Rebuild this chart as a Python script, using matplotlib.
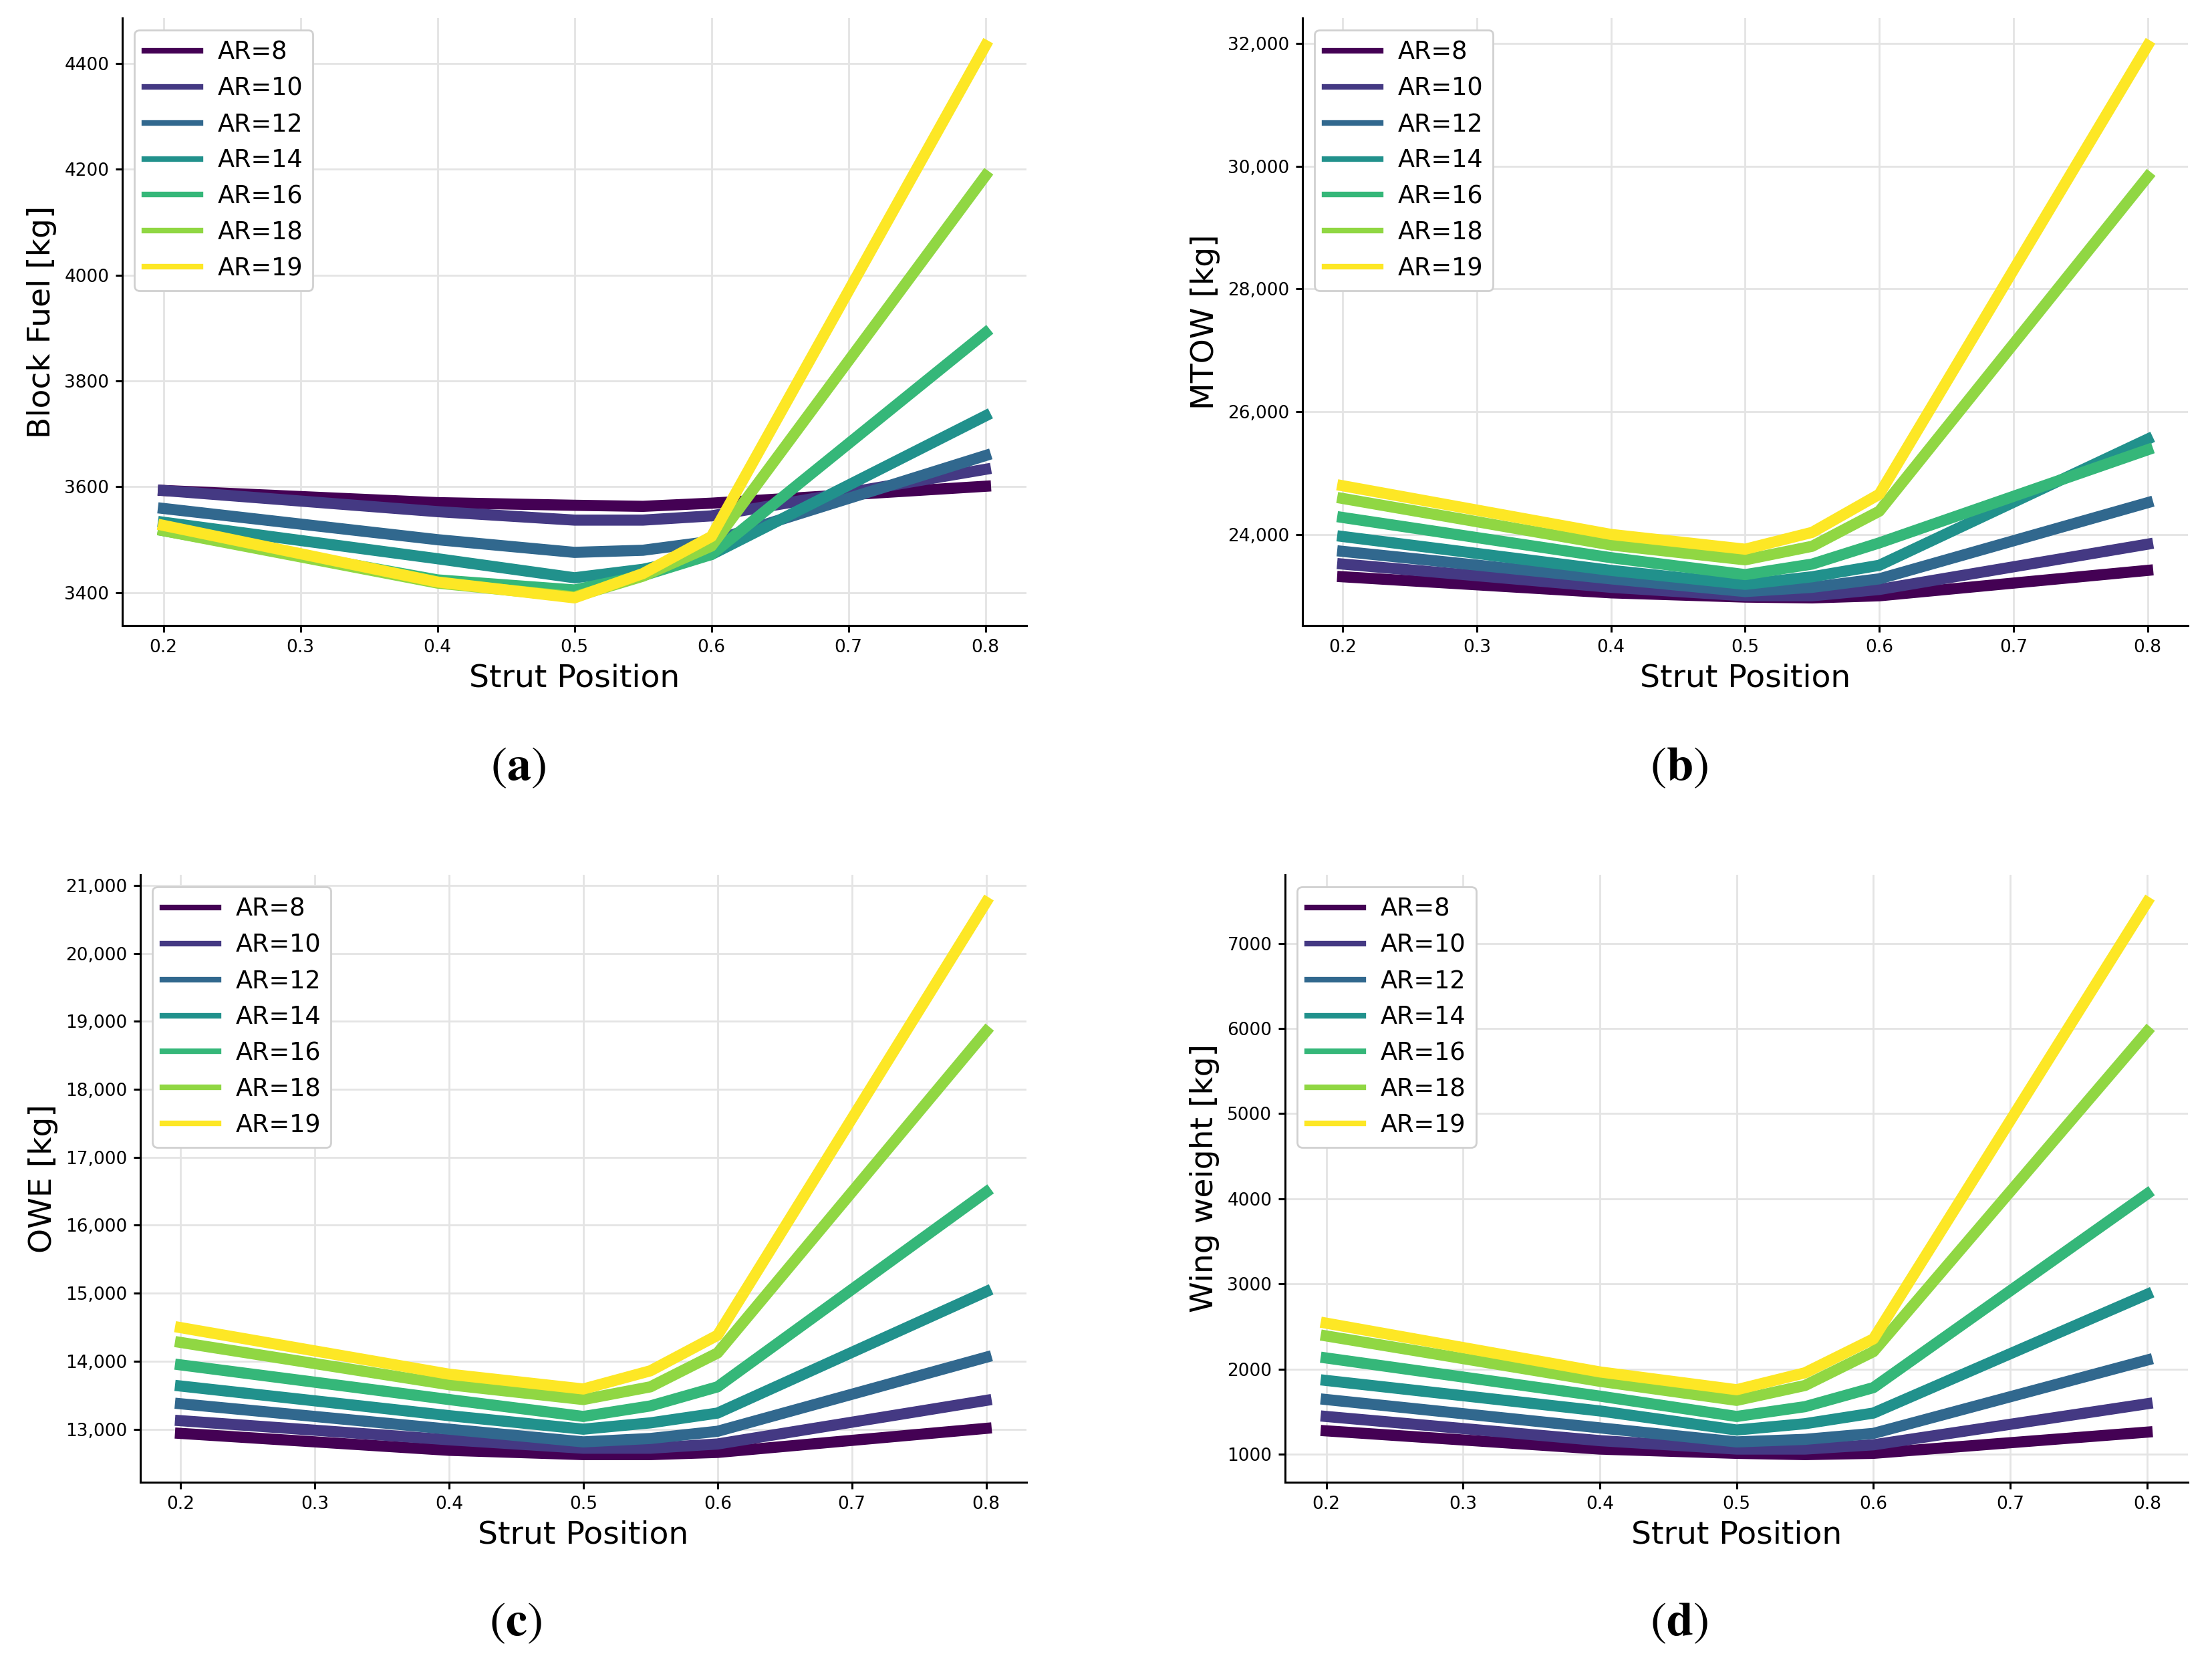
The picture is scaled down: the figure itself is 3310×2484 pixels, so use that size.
"""Strut position sweep: block fuel, MTOW, OWE and wing weight per aspect ratio."""

import matplotlib
matplotlib.use("Agg")
import matplotlib.pyplot as plt
import matplotlib.ticker as mticker
import numpy as np

strut_pos = [0.2, 0.4, 0.5, 0.55, 0.6, 0.8]
aspect_ratios = [8, 10, 12, 14, 16, 18, 19]

block_fuel = [
    [3593, 3570, 3565, 3563, 3569, 3601],
    [3593, 3553, 3537, 3537, 3545, 3633],
    [3559, 3500, 3476, 3480, 3497, 3659],
    [3533, 3464, 3428, 3444, 3472, 3734],
    [3517, 3424, 3405, 3432, 3472, 3891],
    [3517, 3418, 3392, 3431, 3488, 4188],
    [3527, 3420, 3390, 3436, 3506, 4434],
]
mtow = [
    [23310, 23048, 22979, 22966, 23000, 23414],
    [23517, 23138, 23000, 23000, 23103, 23841],
    [23724, 23276, 23069, 23138, 23276, 24517],
    [23966, 23414, 23186, 23310, 23497, 25552],
    [24276, 23621, 23345, 23517, 23862, 25379],
    [24586, 23828, 23586, 23807, 24379, 29828],
    [24793, 24000, 23759, 24034, 24655, 31966],
]
owe = [
    [12938, 12689, 12626, 12626, 12658, 13012],
    [13125, 12844, 12720, 12720, 12782, 13423],
    [13374, 13000, 12813, 12863, 12969, 14058],
    [13635, 13199, 13000, 13093, 13237, 15023],
    [13946, 13436, 13187, 13342, 13623, 16487],
    [14276, 13654, 13436, 13623, 14121, 18852],
    [14494, 13809, 13591, 13859, 14382, 20751],
]
wing_weight = [
    [1274, 1060, 1010, 995, 1010, 1259],
    [1443, 1159, 1060, 1060, 1110, 1592],
    [1642, 1309, 1144, 1174, 1244, 2105],
    [1866, 1508, 1284, 1358, 1483, 2877],
    [2130, 1682, 1443, 1558, 1782, 4057],
    [2389, 1856, 1632, 1807, 2205, 5964],
    [2539, 1966, 1757, 1956, 2354, 7483],
]

panels = [
    (block_fuel, "Block Fuel [kg]", False, "a"),
    (mtow, "MTOW [kg]", True, "b"),
    (owe, "OWE [kg]", True, "c"),
    (wing_weight, "Wing weight [kg]", False, "d"),
]

# axes rectangles in figure fractions (left, bottom, width, height)
axes_rects = [
    (0.0553, 0.6232, 0.4088, 0.3660),
    (0.5888, 0.6232, 0.4003, 0.3660),
    (0.0634, 0.1071, 0.4006, 0.3660),
    (0.5810, 0.1071, 0.4082, 0.3660),
]
letter_pos = [(0.2344, 0.538), (0.759, 0.538), (0.2330, 0.0225), (0.759, 0.0225)]

plt.rcParams["mathtext.fontset"] = "stix"

colors = plt.cm.viridis(np.linspace(0, 1, len(aspect_ratios)))

fig = plt.figure(figsize=(16.55, 12.42), dpi=200)

for (data, ylabel, commas, letter), rect, lpos in zip(panels, axes_rects, letter_pos):
    ax = fig.add_axes(rect)
    for ar, vals, c in zip(aspect_ratios, data, colors):
        ax.plot(strut_pos, vals, color=c, lw=6.0, label=f"AR={ar}")
    ax.grid(True, color="#e4e4e4", lw=1.0)
    ax.set_axisbelow(True)
    ax.spines["top"].set_visible(False)
    ax.spines["right"].set_visible(False)
    ax.spines["left"].set_linewidth(1.1)
    ax.spines["bottom"].set_linewidth(1.1)
    ax.set_xticks([0.2, 0.3, 0.4, 0.5, 0.6, 0.7, 0.8])
    if commas:
        ax.yaxis.set_major_formatter(mticker.StrMethodFormatter("{x:,.0f}"))
    ax.tick_params(length=3.6, width=1.1, labelsize=9.5)
    ax.set_xlabel("Strut Position", fontsize=17)
    ax.set_ylabel(ylabel, fontsize=17)
    leg = ax.legend(loc="upper left", fontsize=13.2, framealpha=1,
                    edgecolor="#d0d0d0", handlelength=2.3,
                    handletextpad=0.7, labelspacing=0.46)
    for h in leg.get_lines():
        h.set_linewidth(3.0)
    fig.text(lpos[0], lpos[1], r"$(\mathbf{" + letter + "})$", fontsize=26,
             ha="center", va="center")

fig.savefig("out.png", dpi=200)
